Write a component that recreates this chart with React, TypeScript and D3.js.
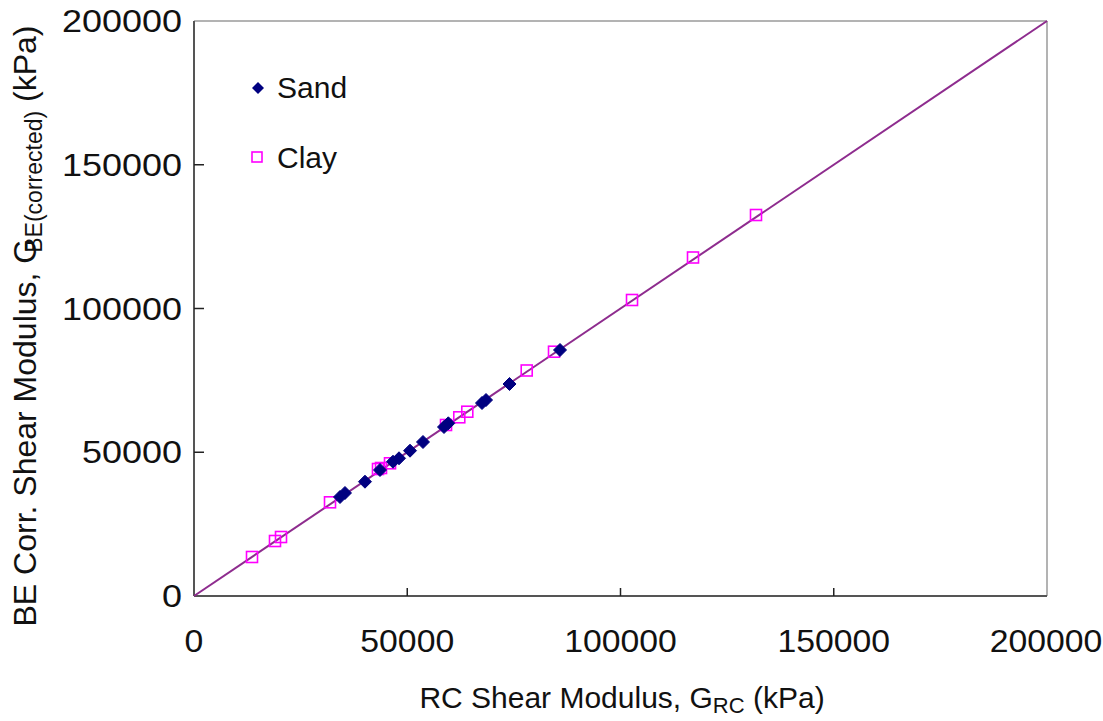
import React from "react";
import * as d3 from "d3";

const sandX = [34230, 35400, 40090, 43610, 46660, 48070, 50650, 53690, 58620, 59630, 67530, 68470, 73980, 85820];
const sandY = [34430, 35830, 39760, 43830, 46710, 47900, 50540, 53570, 58780, 60070, 67130, 68170, 73740, 85570];
const clayX = [13600, 18990, 20400, 31890, 43140, 43850, 45960, 59090, 62200, 64080, 78010, 84410, 102700, 117000, 131770];
const clayY = [13570, 19130, 20520, 32590, 44170, 44520, 46160, 59480, 62160, 64100, 78440, 84970, 102960, 117740, 132520];
const ticks = [0, 50000, 100000, 150000, 200000];
const seriesNames = ["Sand", "Clay"];

const W = 1103, H = 721;
const L = 194, R = 1047, T = 21, B = 596;
const FONT = "'Liberation Sans', Arial, sans-serif";
const SY = 1.16;
const SXT = 1.09;

export default function App() {
  const x = d3.scaleLinear().domain([0, 200000]).range([L, R]);
  const y = d3.scaleLinear().domain([0, 200000]).range([B, T]);
  const diamond = (cx: number, cy: number, r: number) =>
    `M${cx},${cy - r}L${cx + r},${cy}L${cx},${cy + r}L${cx - r},${cy}Z`;
  const sand = sandX.map((v, i) => ({ x: v, y: sandY[i] }));
  const clay = clayX.map((v, i) => ({ x: v, y: clayY[i] }));
  const line = d3.line<[number, number]>().x(d => x(d[0])).y(d => y(d[1]));

  return (
    <svg width={W} height={H} style={{ position: "absolute", left: 0, top: 0, background: "#fff" }} fontFamily={FONT}>
      <rect x={0} y={0} width={W} height={H} fill="#fff" />
      {/* frame */}
      <line x1={L} y1={T} x2={R} y2={T} stroke="#9a9a9a" strokeWidth={1.5} />
      <line x1={R} y1={T} x2={R} y2={B} stroke="#9a9a9a" strokeWidth={1.5} />
      <line x1={L} y1={T} x2={L} y2={B} stroke="#555" strokeWidth={2} />
      <line x1={L} y1={B} x2={R} y2={B} stroke="#555" strokeWidth={2} />
      {/* ticks */}
      {ticks.map(t => (
        <g key={"yt" + t}>
          {t > 0 && t < 200000 && <line x1={L} x2={L + 10} y1={y(t)} y2={y(t)} stroke="#222" strokeWidth={1.5} />}
          <text transform={`translate(182,${y(t) + 11}) scale(${SY},1)`} textAnchor="end" fontSize={31} fill="#111">{t}</text>
        </g>
      ))}
      {ticks.map(t => (
        <g key={"xt" + t}>
          {t > 0 && t < 200000 && <line x1={x(t)} x2={x(t)} y1={B} y2={B - 8} stroke="#222" strokeWidth={1.5} />}
          <text transform={`translate(${t === 200000 ? x(t) - 1 : x(t)},652) scale(${SXT},1)`} textAnchor="middle" fontSize={31} fill="#111">{t}</text>
        </g>
      ))}
      {/* 1:1 line */}
      <path d={line([[0, 0], [200000, 200000]]) || ""} stroke="#8e2c8e" strokeWidth={2} fill="none" />
      {/* clay */}
      {clay.map((d, i) => (
        <rect key={"c" + i} x={x(d.x) - 5.5} y={y(d.y) - 5.5} width={11} height={11} fill="none" stroke="#ff00ff" strokeWidth={1.6} />
      ))}
      {/* sand */}
      {sand.map((d, i) => (
        <path key={"s" + i} d={diamond(x(d.x), y(d.y), 6.5)} fill="#000080" stroke="#000080" strokeWidth={1} />
      ))}
      {/* legend */}
      <path d={diamond(258, 88, 6)} fill="#000080" />
      <text x={277} y={98} fontSize={30} fill="#111">{seriesNames[0]}</text>
      <rect x={252} y={152} width={10} height={10} fill="none" stroke="#ff00ff" strokeWidth={1.6} />
      <text x={277} y={168} fontSize={30} fill="#111">{seriesNames[1]}</text>
      {/* x title */}
      <text x={622} y={708} textAnchor="middle" fontSize={30} fill="#111">
        RC Shear Modulus, G<tspan fontSize={22} dy={5}>RC</tspan><tspan dy={-5}> (kPa)</tspan>
      </text>
      {/* y title */}
      <text transform="translate(36,326) rotate(-90)" textAnchor="middle" fontSize={32} fill="#111">
        BE Corr. Shear Modulus, G<tspan fontSize={23} dy={6} dx={-14}>BE(corrected)</tspan><tspan dy={-6}> (kPa)</tspan>
      </text>
    </svg>
  );
}
